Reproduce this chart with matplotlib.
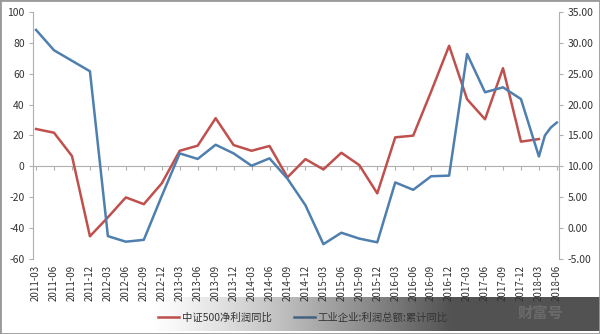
#!/usr/bin/env python3
"""中证500净利润同比 vs 工业企业利润总额累计同比（双轴折线）。"""
import numpy as np
import matplotlib
matplotlib.use("Agg")
import matplotlib.pyplot as plt
from matplotlib.lines import Line2D
from matplotlib.patches import Rectangle

plt.rcParams['font.family'] = ['Noto Sans CJK SC', 'DejaVu Sans']

# 季度标签
quarters = [f"{y}-{m:02d}" for y in range(2011, 2019) for m in (3, 6, 9, 12)][:30]

# 中证500净利润同比（左轴, %），至 2018-03
csi500_profit = [24.2, 21.8, 6.7, -45.3, -33.0, -20.1, -24.5, -11.0,
                 10.1, 13.4, 31.2, 13.8, 10.1, 13.2, -7.1, 4.7,
                 -2.0, 8.8, 0.8, -17.5, 18.8, 19.9, 48.5, 78.1,
                 43.5, 30.5, 63.6, 16.0, 17.7]

# 工业企业:利润总额:累计同比（右轴, %），2018 年起按月
ind_dates = quarters[:29] + ["2018-04", "2018-05", "2018-06"]
ind_profit = [32.1, 28.8, 27.1, 25.4, -1.3, -2.2, -1.9, 5.2,
              12.1, 11.2, 13.5, 12.1, 10.1, 11.3, 8.0, 3.7,
              -2.6, -0.75, -1.7, -2.3, 7.4, 6.2, 8.4, 8.5,
              28.2, 22.0, 22.8, 20.9, 11.6, 15.0, 16.3, 17.1]

left_ticks = list(range(-60, 101, 20))
right_ticks = list(range(-5, 36, 5))

RED = "#c0504d"
BLUE = "#4f7fae"
GRID = "#b0b0b0"


def pos(label):
    y, m = label.split("-")
    return (int(y) - 2011) * 4 + (int(m) - 3) / 3


fig = plt.figure(figsize=(6.0, 3.34), dpi=100)
ax = fig.add_axes([0.055, 0.2246, 0.877, 0.7395])
ax2 = ax.twinx()

ax.plot([pos(q) for q in quarters[:len(csi500_profit)]], csi500_profit,
        color=RED, lw=1.8, zorder=3)
ax2.plot([pos(d) for d in ind_dates], ind_profit, color=BLUE, lw=1.8, zorder=3)

ax.set_xlim(-0.17, 29.13)
ax.set_ylim(-60, 100)
ax2.set_ylim(-5, 35)

# 横轴放在 0 处，标签放到底部
for s in ("top", "right"):
    ax.spines[s].set_visible(False)
ax.spines["bottom"].set_position(("data", 0))
ax.spines["bottom"].set_color(GRID)
ax.spines["left"].set_color(GRID)
ax.set_xticks(range(len(quarters)))
ax.tick_params(axis="x", direction="out", length=3, color=GRID, labelbottom=False)
for i, q in enumerate(quarters):
    ax.text(i, -0.025, q, transform=ax.get_xaxis_transform(), rotation=90,
            ha="center", va="top", fontsize=7, color="#333333")

ax.set_yticks(left_ticks)
ax.set_yticklabels([str(v) for v in left_ticks])
ax.tick_params(axis="y", direction="out", length=3, color=GRID, labelsize=7.5,
               labelcolor="#333333", pad=3)

for s in ("top", "left", "bottom"):
    ax2.spines[s].set_visible(False)
ax2.spines["right"].set_color(GRID)
ax2.set_yticks(right_ticks)
ax2.set_yticklabels([f"{v:.2f}" for v in right_ticks])
ax2.tick_params(axis="y", direction="out", length=3, color=GRID, labelsize=7.5,
                labelcolor="#333333", pad=3)

handles = [Line2D([], [], color=RED, lw=1.8), Line2D([], [], color=BLUE, lw=1.8)]
fig.legend(handles, ["中证500净利润同比", "工业企业:利润总额:累计同比"],
           loc="center", bbox_to_anchor=(0.505, 0.048), ncol=2, frameon=False,
           fontsize=7.5, handlelength=2.0, handletextpad=0.3, columnspacing=2.1,
           labelcolor="#333333")

# 底部水印渐变条
band = fig.add_axes([0, 3 / 334, 1, 34 / 334], zorder=10)
band.axis("off")
xs = np.arange(600)
alpha = np.clip((xs - 150) / 300, 0, 1) ** 1.2 * 0.85
img = np.zeros((1, 600, 4))
img[..., :3] = 0.2
img[0, :, 3] = alpha
band.imshow(img, aspect="auto", extent=(0, 600, 0, 1))
band.set_xlim(0, 600)
band.set_ylim(0, 1)
band.text(540, 0.52, "财富号", ha="center", va="center", fontsize=11,
          fontweight="bold", color="#6a6a6a")

fig.patches.append(Rectangle((0, 0), 1, 1, transform=fig.transFigure,
                             fill=False, edgecolor="#999999", lw=2, zorder=20))

fig.savefig("out.png", dpi=100)
plt.close(fig)
